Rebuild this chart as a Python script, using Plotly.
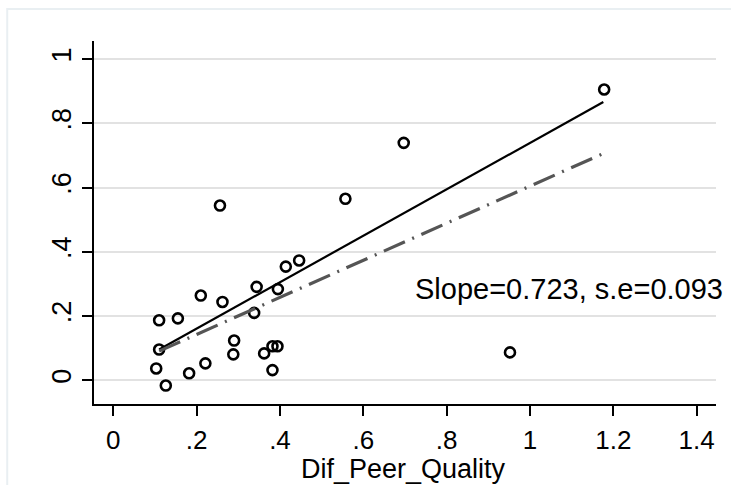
import plotly.graph_objects as go

# Data
dif_peer_quality = [0.110, 0.155, 0.210, 0.262, 0.344, 0.395, 0.338, 0.110, 0.290, 0.288,
                    0.103, 0.182, 0.221, 0.126, 0.362, 0.382, 0.394, 0.382, 0.414, 0.446,
                    0.256, 0.557, 0.697, 1.178, 0.952]
outcome = [0.187, 0.193, 0.264, 0.244, 0.291, 0.284, 0.210, 0.096, 0.124, 0.081,
           0.037, 0.022, 0.053, -0.016, 0.084, 0.106, 0.106, 0.032, 0.354, 0.373,
           0.544, 0.565, 0.739, 0.905, 0.087]

fit_x = [0.110, 1.176]
fit_solid_y = [0.096, 0.866]
fit_dashed_y = [0.091, 0.706]

x_ticks = [0, 0.2, 0.4, 0.6, 0.8, 1.0, 1.2, 1.4]
x_tick_labels = ["0", ".2", ".4", ".6", ".8", "1", "1.2", "1.4"]
y_ticks = [0, 0.2, 0.4, 0.6, 0.8, 1.0]
y_tick_labels = ["0", ".2", ".4", ".6", ".8", "1"]

annotation_text = "Slope=0.723, s.e=0.093"
x_title = "Dif_Peer_Quality"

FONT = "Liberation Sans, Arial, Helvetica, sans-serif"

fig = go.Figure()
fig.add_trace(go.Scatter(
    x=dif_peer_quality, y=outcome, mode="markers",
    marker=dict(symbol="circle-open", size=10, color="black", line=dict(width=2.6, color="black")),
    showlegend=False, hoverinfo="skip"))
fig.add_trace(go.Scatter(
    x=fit_x, y=fit_solid_y, mode="lines",
    line=dict(color="black", width=2.2), showlegend=False, hoverinfo="skip"))
fig.add_trace(go.Scatter(
    x=fit_x, y=fit_dashed_y, mode="lines",
    line=dict(color="#555555", width=3.2, dash="23px,8px,2px,8px"),
    showlegend=False, hoverinfo="skip"))

fig.add_annotation(x=0.719, y=0.284, xref="x", yref="y", text=annotation_text,
                   showarrow=False, xanchor="left", yanchor="middle",
                   font=dict(family=FONT, size=29, color="black"))

fig.add_annotation(x=0.4968, y=-0.1791, xref="paper", yref="paper", text=x_title,
                   showarrow=False, xanchor="center", yanchor="middle", borderpad=0,
                   font=dict(family=FONT, size=27, color="black"))

# Outer graph-region frame
fig.add_shape(type="rect", xref="paper", yref="paper",
              x0=-0.1395, x1=1.2, y0=-0.5, y1=1.088,
              line=dict(color="#e9eff2", width=2), fillcolor="rgba(0,0,0,0)", layer="below")

fig.update_layout(
    width=731, height=485,
    margin=dict(l=94, r=15, t=41, b=81),
    paper_bgcolor="white", plot_bgcolor="white",
    font=dict(family=FONT, color="black"),
    xaxis=dict(
        range=[-0.0463, 1.4464], tickmode="array", tickvals=x_ticks, ticktext=x_tick_labels,
        showgrid=False, zeroline=False, showline=True, linecolor="black", linewidth=1.6,
        ticks="outside", ticklen=10, tickwidth=1.6, tickcolor="black", ticklabelstandoff=2,
        tickfont=dict(family=FONT, size=26, color="black"),
    ),
    yaxis=dict(
        range=[-0.0735, 1.0559], tickmode="array", tickvals=y_ticks, ticktext=y_tick_labels,
        showgrid=True, gridcolor="#e2e2e2", gridwidth=1.6, zeroline=False,
        showline=True, linecolor="black", linewidth=1.6,
        ticks="outside", ticklen=10, tickwidth=1.6, tickcolor="black", tickangle=-90,
        tickfont=dict(family=FONT, size=27, color="black"),
    ),
)

fig.write_html("out.html", config={"displayModeBar": False},
               post_script="document.body.style.margin='0';document.body.style.overflow='hidden';")
